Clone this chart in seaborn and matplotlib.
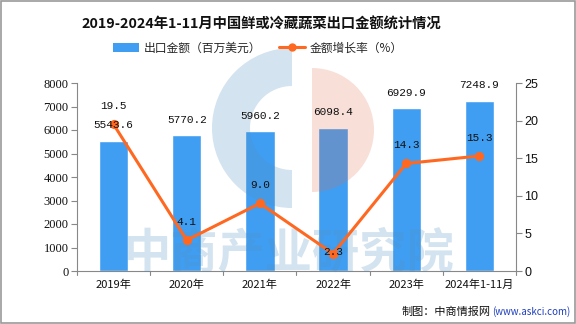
import matplotlib
matplotlib.use("Agg")
import matplotlib.pyplot as plt
import seaborn as sns
import numpy as np
from matplotlib.patches import Rectangle, Wedge
from matplotlib.lines import Line2D

years = ["2019年", "2020年", "2021年", "2022年", "2023年", "2024年1-11月"]
export_value = [5543.6, 5770.2, 5960.2, 6098.4, 6929.9, 7248.9]
growth_rate = [19.5, 4.1, 9.0, 2.3, 14.3, 15.3]
left_ticks = [0, 1000, 2000, 3000, 4000, 5000, 6000, 7000, 8000]
right_ticks = [0, 5, 10, 15, 20, 25]

title = "2019-2024年1-11月中国鲜或冷藏蔬菜出口金额统计情况"
legend_bar = "出口金额（百万美元）"
legend_line = "金额增长率（%）"
source = "制图：中商情报网"
source_url = "(www.askci.com)"
watermark = "中商产业研究院"

sns.set_theme(style="white")
plt.rcParams['font.family'] = ['Noto Sans CJK SC', 'DejaVu Sans']

BAR = "#409EF2"
LINE = "#FF6820"
AX = "#888888"

fig = plt.figure(figsize=(5.76, 3.24), dpi=100)
ax = fig.add_axes([77/576, 1-271/324, (516-77)/576, (271-83)/324])

sns.barplot(x=years, y=export_value, ax=ax, color=BAR, width=0.4, saturation=1, zorder=2)
ax.set_xlim(-0.5, 5.5)
ax.set_ylim(0, 8000)
ax.set_yticks(left_ticks)
ax.set_yticklabels([str(t) for t in left_ticks], fontsize=9, family=['Liberation Serif', 'DejaVu Serif'])
ax.set_xlabel("")
ax.set_ylabel("")
ax.set_xticks(np.arange(len(years)))
ax.set_xticklabels(years, fontsize=8)
ax.tick_params(axis='x', length=0, pad=6, colors='#111111')
for b in np.arange(-0.5, 6, 1.0):
    ax.plot([b, b], [0, -0.022], transform=ax.get_xaxis_transform(), color=AX, lw=0.8, clip_on=False)
ax.tick_params(axis='y', length=4, width=0.8, color=AX, pad=2, left=True, labelcolor='#111111')
for s in ['top', 'right']:
    ax.spines[s].set_visible(False)
for s in ['left', 'bottom']:
    ax.spines[s].set_color(AX)
    ax.spines[s].set_linewidth(0.8)

# watermark overlay (pixel coordinates)
ov = fig.add_axes([0, 0, 1, 1], zorder=1.5)
ov.set_xlim(0, 576)
ov.set_ylim(324, 0)
ov.axis('off')
ov.patch.set_alpha(0)
ov.add_patch(Wedge((292, 128), 80, 90, 270, width=38, facecolor='#5090C0', alpha=0.25,
                   edgecolor='none'))
ov.add_patch(Wedge((312, 130), 62, -90, 90, facecolor='#E07050', alpha=0.22, edgecolor='none'))
ov.text(289, 253, watermark, ha='center', va='center', fontsize=34, fontweight='bold',
        color='#5090C0', alpha=0.25)

ax2 = ax.twinx()
ax2.set_zorder(2)
sns.pointplot(x=years, y=growth_rate, ax=ax2, color=LINE, markers='o', markersize=5,
              linewidth=2.2, zorder=5)
ax2.set_xlim(-0.5, 5.5)
ax2.set_ylim(0, 25)
ax2.set_yticks(right_ticks)
ax2.set_yticklabels([str(t) for t in right_ticks], fontsize=9, family=['Liberation Sans', 'DejaVu Sans'])
ax2.set_ylabel("")
ax2.tick_params(axis='y', length=4, width=0.8, color=AX, pad=2, right=True, labelcolor='#111111')
for s in ['top', 'left', 'bottom']:
    ax2.spines[s].set_visible(False)
ax2.spines['right'].set_color(AX)
ax2.spines['right'].set_linewidth(0.8)

# value labels
for i, v in enumerate(export_value):
    ax2.annotate(f"{v:.1f}", (i, v / 8000 * 25), xytext=(0, 11), textcoords='offset points',
                 ha='center', va='center', fontsize=8, family=['Liberation Mono', 'DejaVu Sans Mono'],
                 color='#111111', zorder=6)
for i, v in enumerate(growth_rate):
    off = 1 if i == 3 else 13
    ax2.annotate(f"{v:.1f}", (i, v), xytext=(0, off), textcoords='offset points',
                 ha='center', va='center', fontsize=8, family=['Liberation Mono', 'DejaVu Sans Mono'],
                 color='#111111', zorder=6)

# title
fig.text(261/576, 1-25/324, title, ha='center', va='center', fontsize=10.3, fontweight='bold',
         color='#111111')

# legend
handles = [Rectangle((0, 0), 1, 1, facecolor=BAR, edgecolor='none'),
           Line2D([0], [0], color=LINE, lw=2.2, marker='o', markersize=5)]
fig.legend(handles, [legend_bar, legend_line], loc='center', bbox_to_anchor=(258/576, 1-48/324),
           ncol=2, frameon=False, fontsize=8.5, handlelength=2.2, handleheight=0.8,
           columnspacing=1.5, handletextpad=0.4)

# source
fig.text(1-6/576, 1-312/324, source_url, ha='right', va='center', fontsize=7, color='#1F3FBF')
fig.text(1-6/576 - 0.138, 1-312/324, source, ha='right', va='center', fontsize=8, color='#111111')

# border
fig.patches.append(Rectangle((0.001, 0.002), 0.997, 0.995, transform=fig.transFigure,
                             fill=False, edgecolor='#999999', lw=1.2, zorder=20))

fig.savefig("out.png", dpi=100)
